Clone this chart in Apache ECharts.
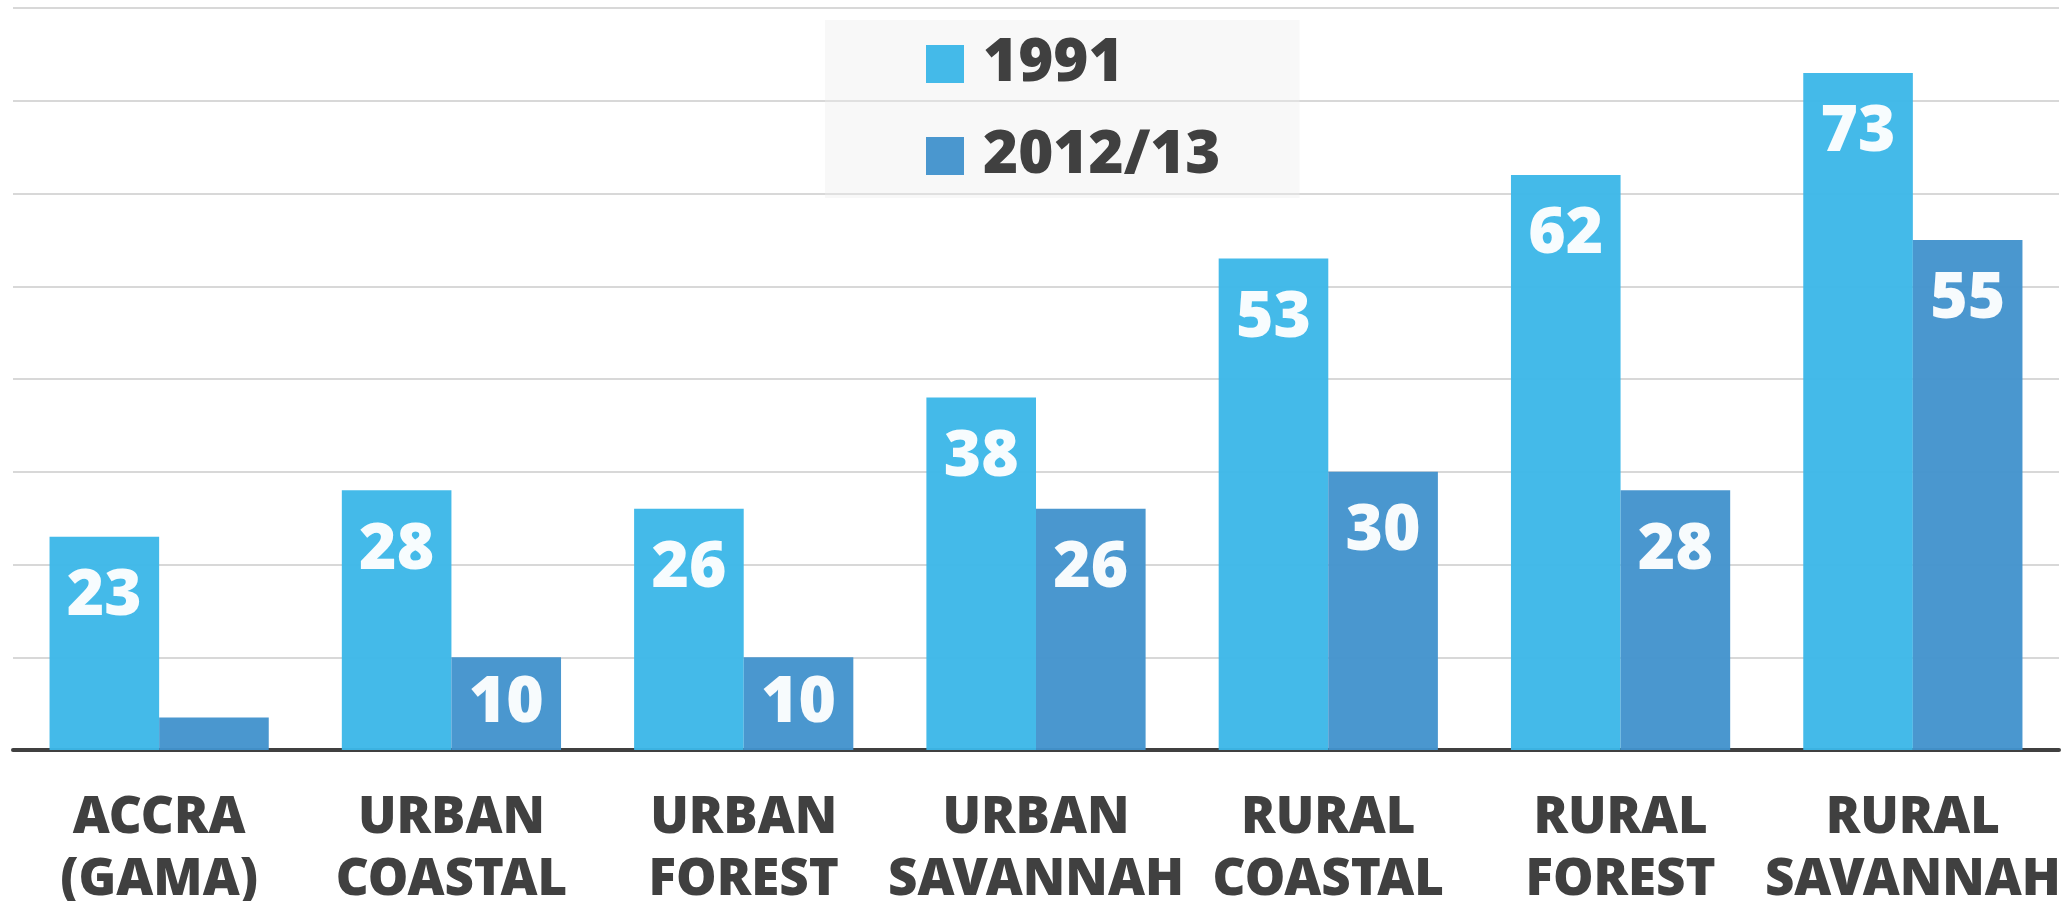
<!DOCTYPE html>
<html><head><meta charset="utf-8">
<script src="https://cdn.jsdelivr.net/npm/echarts@6/dist/echarts.min.js"></script>
<style>html,body{margin:0;padding:0;background:#fff}#c{width:2072px;height:901px}</style>
</head><body><div id="c"></div>
<script>
const categories = ['ACCRA\n(GAMA)', 'URBAN\nCOASTAL', 'URBAN\nFOREST', 'URBAN\nSAVANNAH', 'RURAL\nCOASTAL', 'RURAL\nFOREST', 'RURAL\nSAVANNAH'];
const seriesNames = ['1991', '2012/13'];
const values1991 = [23, 28, 26, 38, 53, 62, 73];
const values2012 = [3.5, 10, 10, 26, 30, 28, 55];
const hiddenLabels2012 = [true, false, false, false, false, false, false];

const FONT = 'Noto Sans';
const dark = '#404040';
const colors = ['#3cb7e8', '#4393cd'];

function labelFor(v, hidden) {
  if (hidden) return { show: false };
  if (v <= 12) return { show: true, position: 'inside' };
  return { show: true, position: 'insideTop', distance: 28 };
}

const chart = echarts.init(document.getElementById('c'));
chart.setOption({
  animation: false,
  textStyle: { fontFamily: FONT },
  legend: {
    data: seriesNames,
    orient: 'vertical',
    left: 825, top: 20,
    padding: [14, 79, 12, 101],
    itemWidth: 38, itemHeight: 38, itemGap: 32,
    icon: 'rect',
    backgroundColor: 'rgba(238,238,238,0.4)',
    textStyle: { fontFamily: FONT, fontWeight: 900, fontSize: 60, color: dark, padding: [0, 0, 0, 14] }
  },
  grid: { left: 13, right: 13, top: 8, bottom: 151, containLabel: false, outerBoundsMode: 'none' },
  xAxis: {
    type: 'category', data: categories,
    axisLine: { lineStyle: { color: dark, width: 4 } },
    axisTick: { show: false },
    axisLabel: { margin: 37, fontFamily: FONT, fontWeight: 900, fontSize: 51, lineHeight: 62, color: dark, interval: 0 }
  },
  yAxis: {
    type: 'value', min: 0, max: 80, interval: 10,
    axisLabel: { show: false }, axisLine: { show: false }, axisTick: { show: false },
    splitLine: { lineStyle: { color: '#d8d8d8', width: 2 } }
  },
  series: [
    {
      name: seriesNames[0], type: 'bar', barGap: '0%', barCategoryGap: '25%',
      itemStyle: { color: colors[0], opacity: 0.96 },
      label: { color: '#fff', fontFamily: FONT, fontWeight: 900, fontSize: 64 },
      data: values1991.map(v => ({ value: v, label: labelFor(v, false) }))
    },
    {
      name: seriesNames[1], type: 'bar', barGap: '0%', barCategoryGap: '25%',
      itemStyle: { color: colors[1], opacity: 0.96 },
      label: { color: '#fff', fontFamily: FONT, fontWeight: 900, fontSize: 64 },
      data: values2012.map((v, i) => ({ value: v, label: labelFor(v, hiddenLabels2012[i]) }))
    }
  ]
});
</script></body></html>
